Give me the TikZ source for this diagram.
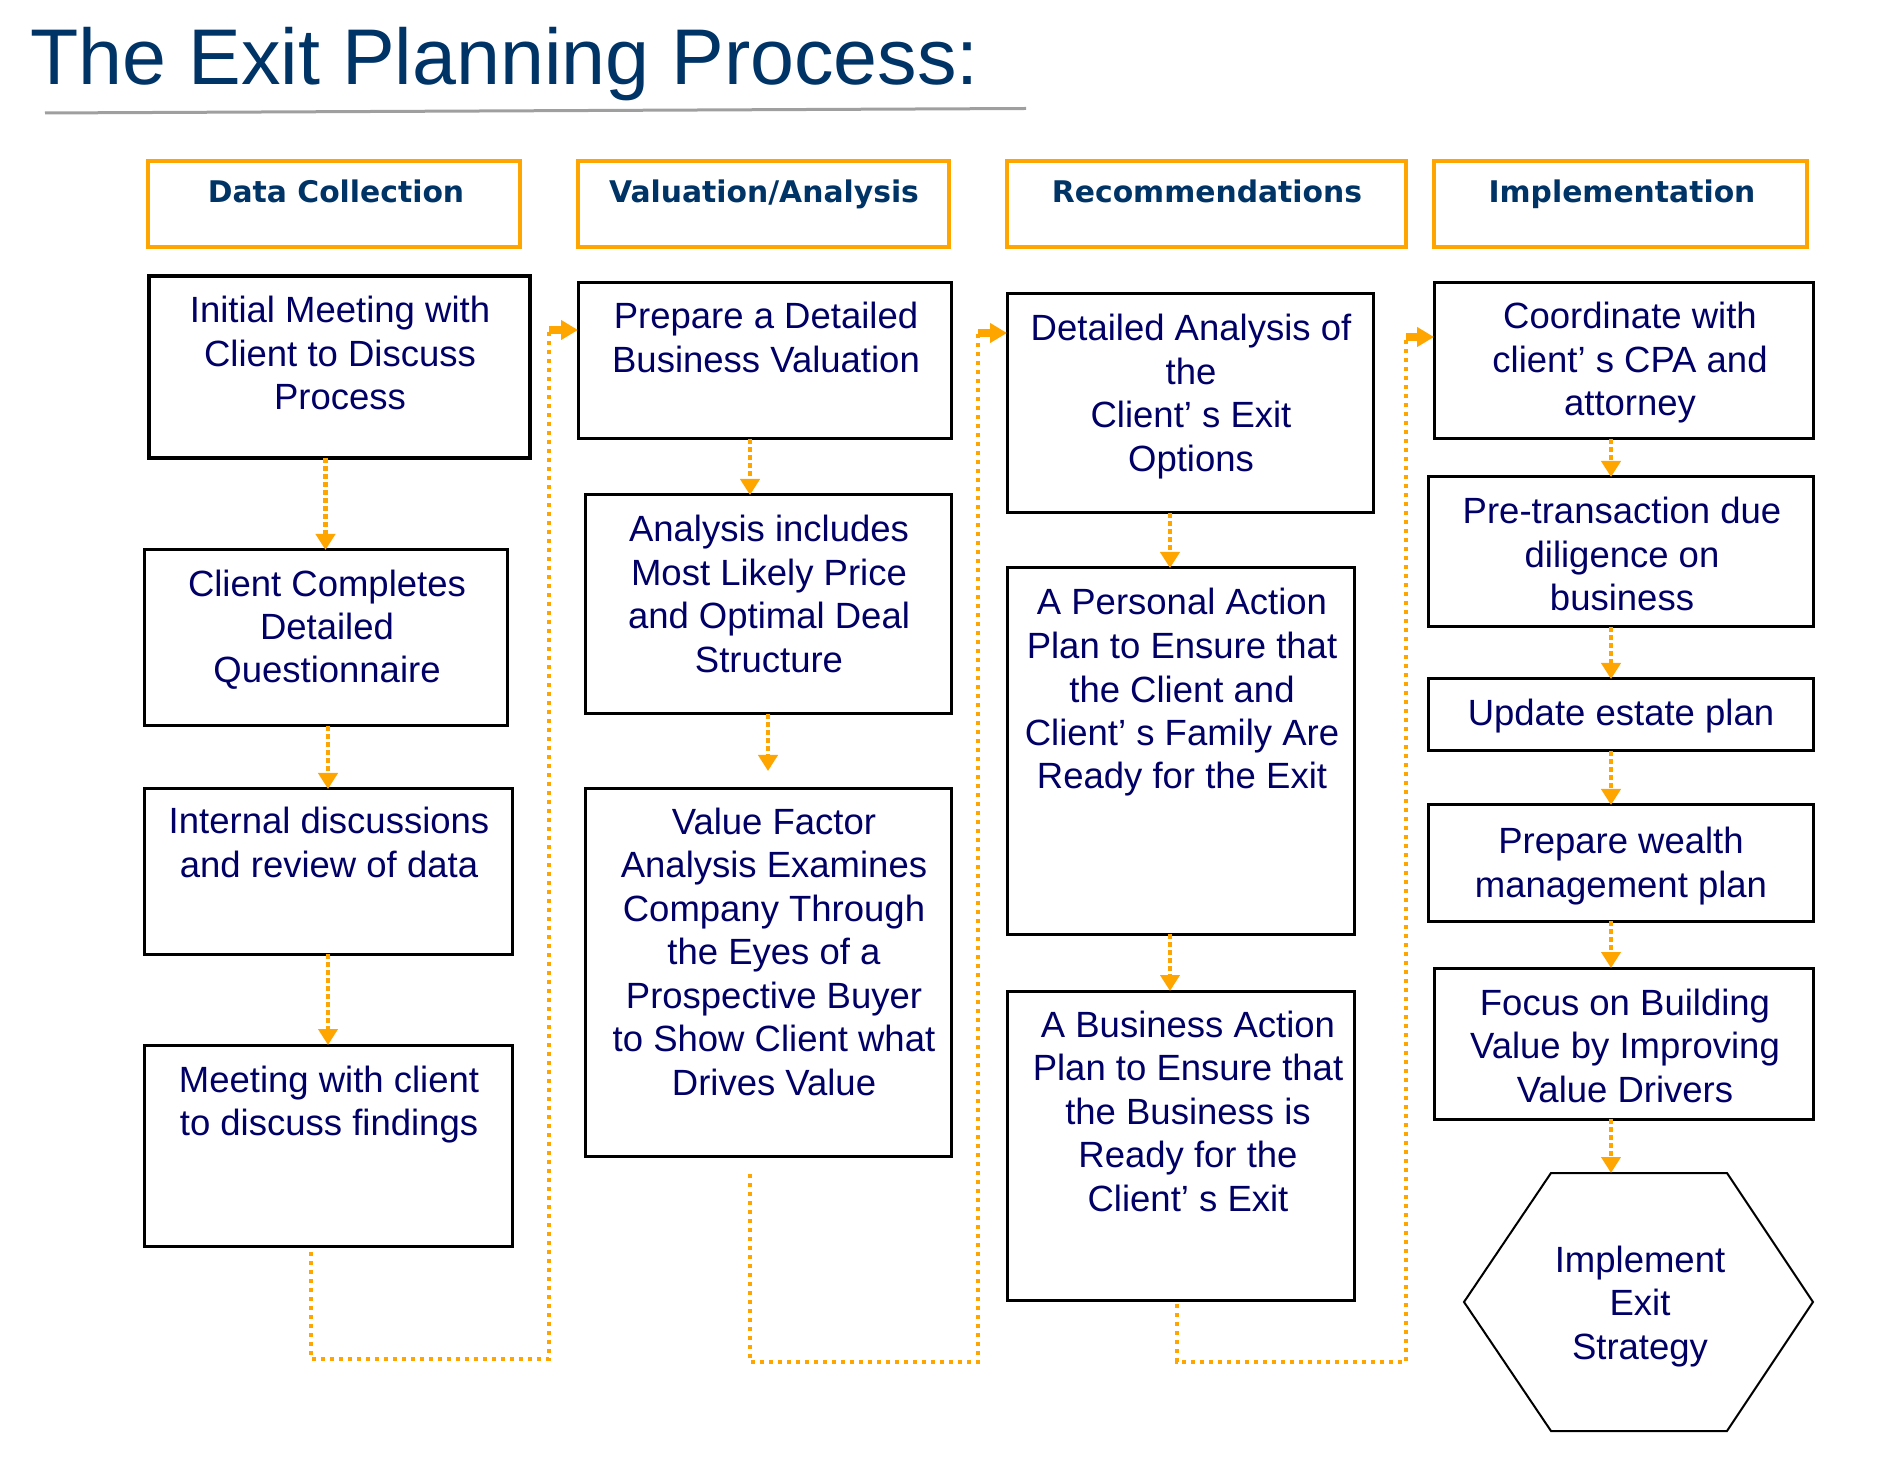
\documentclass[tikz,border=0pt]{standalone}
\usepackage{fontspec}
\setmainfont{Liberation Sans}
\newfontfamily\hdrfont{DejaVu Sans}
\usetikzlibrary{arrows.meta,fit}
\definecolor{titleblue}{RGB}{0,51,102}
\definecolor{txtblue}{RGB}{0,0,102}
\definecolor{orng}{RGB}{255,165,0}
\begin{document}
\begin{tikzpicture}[x=0.5pt,y=-0.5pt,
  box/.style={draw=black, line width=1.5pt, inner sep=0pt, outer sep=0pt},
  hdr/.style={draw=orng, line width=1.7pt, inner sep=0pt, outer sep=0pt},
  txt/.style={anchor=base, align=center, inner sep=0pt, text=txtblue, font=\fontsize{18.25pt}{21.75pt}\selectfont},
  hdrtxt/.style={anchor=base, inner sep=0pt, text=titleblue, font=\hdrfont\bfseries\fontsize{14.9pt}{18pt}\selectfont},
  flow/.style={draw=orng, line width=2.25pt, dash pattern=on 2.5pt off 1.5pt, -{Triangle[width=9.5pt,length=8pt]}},
  loopdots/.style={draw=orng, line width=2.1pt, dash pattern=on 2.1pt off 2.4pt},
  stub/.style={draw=orng, solid, line width=3.6pt, -{Triangle[width=9.5pt,length=8.5pt]}},
]
\useasboundingbox (0,0) rectangle (1886,1470);

% title
\node[anchor=base west, inner sep=0pt, text=titleblue, font=\fontsize{39.5pt}{45pt}\selectfont] (title) at (30,85) {The Exit Planning Process:};
\draw[gray!75, line width=1.5pt] (45,113) -- (1026,108.5);

% headers
\node[hdr, fit={(148,161) (520,247)}] (h1) {};
\node[hdr, fit={(578,161) (949,247)}] (h2) {};
\node[hdr, fit={(1007,161) (1406,247)}] (h3) {};
\node[hdr, fit={(1434,161) (1807,247)}] (h4) {};
\node[hdrtxt] (h1t) at (336,203) {Data Collection};
\node[hdrtxt] (h2t) at (764,203) {Valuation/Analysis};
\node[hdrtxt] (h3t) at (1207,203) {Recommendations};
\node[hdrtxt] (h4t) at (1622,203) {Implementation};

% column 1 (text anchors are at the baseline of the last line)
\node[box, line width=2pt, fit={(149,276) (530,458)}] (b11) {};
\node[box, fit={(144,550) (507,726)}] (b12) {};
\node[box, fit={(144,789) (512,954)}] (b13) {};
\node[box, fit={(144,1045) (512,1246)}] (b14) {};
\node[txt] (b11t) at (340,410) {Initial Meeting with\\Client to Discuss\\Process};
\node[txt] (b12t) at (327,683) {Client Completes\\Detailed\\Questionnaire};
\node[txt] (b13t) at (329,877.5) {Internal discussions\\and review of data};
\node[txt] (b14t) at (329,1135.5) {Meeting with client\\to discuss findings};

% column 2
\node[box, fit={(578,283) (951,439)}] (b21) {};
\node[box, fit={(585,495) (951,714)}] (b22) {};
\node[box, fit={(585,789) (951,1156)}] (b23) {};
\node[txt] (b21t) at (766,372.5) {Prepare a Detailed\\Business Valuation};
\node[txt] (b22t) at (769,672.5) {Analysis includes\\Most Likely Price\\and Optimal Deal\\Structure};
\node[txt] (b23t) at (774,1095) {Value Factor\\Analysis Examines\\Company Through\\the Eyes of a\\Prospective Buyer\\to Show Client what\\Drives Value};

% column 3
\node[box, fit={(1007,294) (1373,513)}] (b31) {};
\node[box, fit={(1007,568) (1354,934)}] (b32) {};
\node[box, fit={(1007,991) (1354,1300)}] (b33) {};
\node[txt] (b31t) at (1191,471.5) {Detailed Analysis of\\the\\Client’ s Exit\\Options};
\node[txt] (b32t) at (1182,789) {A Personal Action\\Plan to Ensure that\\the Client and\\Client’ s Family Are\\Ready for the Exit};
\node[txt] (b33t) at (1188,1211) {A Business Action\\Plan to Ensure that\\the Business is\\Ready for the\\Client’ s Exit};

% column 4
\node[box, fit={(1434,283) (1813,439)}] (b41) {};
\node[box, fit={(1428,477) (1813,627)}] (b42) {};
\node[box, fit={(1428,679) (1813,751)}] (b43) {};
\node[box, fit={(1428,805) (1813,921)}] (b44) {};
\node[box, fit={(1434,968) (1813,1119)}] (b45) {};
\node[txt] (b41t) at (1630,416) {Coordinate with\\client’ s CPA and\\attorney};
\node[txt] (b42t) at (1622,611) {Pre-transaction due\\diligence on\\business};
\node[txt] (b43t) at (1621,726) {Update estate plan};
\node[txt] (b44t) at (1621,897.5) {Prepare wealth\\management plan};
\node[txt] (b45t) at (1625,1102) {Focus on Building\\Value by Improving\\Value Drivers};

% hexagon
\coordinate (hx1) at (1551,1173);
\coordinate (hx2) at (1727,1173);
\coordinate (hx3) at (1813,1302);
\coordinate (hx4) at (1727,1431);
\coordinate (hx5) at (1551,1431);
\coordinate (hx6) at (1464,1302);
\draw[black, line width=1pt, line join=miter] (hx1) -- (hx2) -- (hx3) -- (hx4) -- (hx5) -- (hx6) -- cycle;
\node[txt] (hex) at (1640,1359) {Implement\\Exit\\Strategy};
\coordinate (hexin) at (1611,1173);

% arrows column 1
\draw[flow] (b12.north |- b11.south) -- (b12.north);
\draw[flow] (b13.north |- b12.south) -- (b13.north);
\draw[flow] (b14.north |- b13.south) -- (b14.north);
% arrows column 2
\draw[flow] ([xshift=-9pt]b22.north |- b21.south) -- ([xshift=-9pt]b22.north);
\draw[flow] (b23.north |- b22.south) -- ([yshift=9pt]b23.north);
% arrows column 3
\draw[flow] ([xshift=-5.25pt]b32.north |- b31.south) -- ([xshift=-5.25pt]b32.north);
\draw[flow] ([xshift=-5.25pt]b33.north |- b32.south) -- ([xshift=-5.25pt]b33.north);
% arrows column 4 (all on the same vertical line as the hexagon entry)
\draw[flow] (hexin |- b41.south) -- (hexin |- b42.north);
\draw[flow] (hexin |- b42.south) -- (hexin |- b43.north);
\draw[flow] (hexin |- b43.south) -- (hexin |- b44.north);
\draw[flow] (hexin |- b44.south) -- (hexin |- b45.north);
\draw[flow] (hexin |- b45.south) -- (hexin);

% loops between columns: dotted run, then a short solid stub with the arrow head
\coordinate (l1c) at (549,330);
\coordinate (l2c) at (978,333);
\coordinate (l3c) at (1406,337);
\draw[loopdots] ([xshift=-8.5pt,yshift=-3pt]b14.south) |- (549,1359) -- (l1c)
  (l1c) edge[stub] (l1c -| b21.west);
\draw[loopdots] ([xshift=-9pt,yshift=-9pt]b23.south) |- (978,1362) -- (l2c)
  (l2c) edge[stub] (l2c -| b31.west);
\draw[loopdots] ([xshift=-1.75pt,yshift=-2pt]b33.south) |- (1406,1362) -- (l3c)
  (l3c) edge[stub] (l3c -| b41.west);
\end{tikzpicture}
\end{document}
